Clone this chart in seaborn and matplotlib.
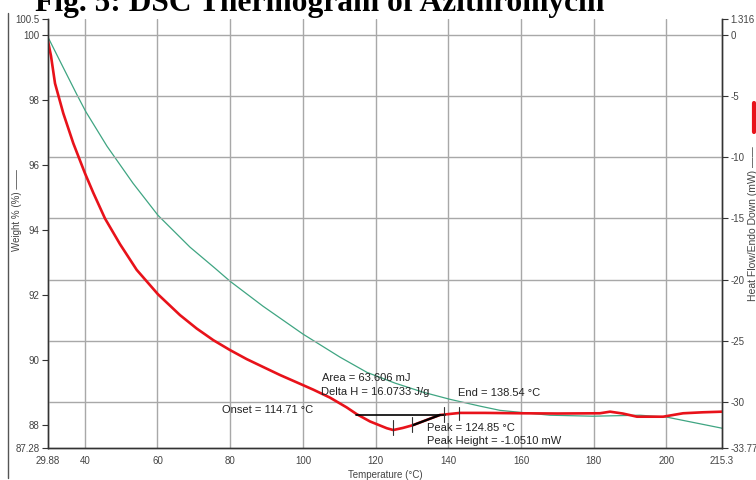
import matplotlib
matplotlib.use("Agg")
import matplotlib.pyplot as plt
from matplotlib.lines import Line2D
import seaborn as sns
import pandas as pd

# heat flow curve (right axis, mW)
red_T = [29.88, 30.7, 31.81, 34.09, 36.84, 40.06, 42.34, 45.56, 49.69, 54.28, 60.14, 66.19,
         70.79, 75.36, 79.95, 84.54, 89.11, 93.7, 98.3, 102.87, 107.46, 112.05, 114.8,
         118.47, 123.06, 124.85, 127.5, 130.3, 134.0, 137.7, 143.2, 150, 160, 170, 181.7,
         184.5, 188, 191.9, 199.1, 204.6, 210, 215.3]
red_HF = [-0.5, -1.7, -3.95, -6.4, -8.85, -11.31, -12.9, -15.0, -17.1, -19.2, -21.2, -22.9,
          -24.0, -24.95, -25.76, -26.5, -27.15, -27.8, -28.4, -29.0, -29.65, -30.45, -31.0,
          -31.6, -32.15, -32.3, -32.13, -31.9, -31.48, -31.07, -30.9, -30.9, -30.93, -30.95, -30.93,
          -30.8, -30.95, -31.21, -31.21, -30.93, -30.85, -30.8]

# weight curve (left axis, %)
green_T = [29.88, 33.73, 37.78, 40.25, 46.11, 53.26, 60.14, 68.94, 75.82, 79.95, 89.02, 100.03,
           110.21, 117.64, 125.34, 133.04, 140.47, 148.73, 154.23, 167.98, 179.81, 192.74,
           200.17, 215.3]
green_W = [99.94, 99.08, 98.18, 97.65, 96.58, 95.44, 94.45, 93.47, 92.82, 92.42, 91.65, 90.79,
           90.08, 89.61, 89.28, 89.0, 88.78, 88.57, 88.44, 88.29, 88.26, 88.29,
           88.23, 87.89]

x_ticks = [29.88, 40, 60, 80, 100, 120, 140, 160, 180, 200, 215.3]
x_labels = ["29.88", "40", "60", "80", "100", "120", "140", "160", "180", "200", "215.3"]
left_ticks = [87.28, 88, 90, 92, 94, 96, 98, 100, 100.5]
left_labels = ["87.28", "88", "90", "92", "94", "96", "98", "100", "100.5"]
right_ticks = [-33.77, -30, -25, -20, -15, -10, -5, 0, 1.316]
right_labels = ["-33.77", "-30", "-25", "-20", "-15", "-10", "-5", "0", "1.316"]

# peak integration
onset_T, end_T, peak_T = 114.71, 138.54, 124.85
base_HF = -31.07
mark_T = [124.85, 130.1, 138.8, 142.9]
mark_lo = [-32.71, -32.46, -31.64, -31.48]
mark_hi = [-31.48, -31.23, -30.42, -30.42]

sns.set_theme(style="white")
plt.rcParams['font.family'] = ['Liberation Sans', 'DejaVu Sans']

fig = plt.figure(figsize=(7.56, 4.8), dpi=100)
ax = fig.add_axes([48/756, 32/480, 674/756, 429/480])
ax2 = ax.twinx()

red_df = pd.DataFrame({'T': red_T, 'HF': red_HF})
green_df = pd.DataFrame({'T': green_T, 'W': green_W})

grid_c = '#a8a8a8'
for t in x_ticks[1:-1]:
    ax.axvline(t, color=grid_c, lw=1.0, zorder=0)
for v in right_ticks[1:-1]:
    ax2.axhline(v, color=grid_c, lw=1.0, zorder=0)

sns.lineplot(data=green_df, x='T', y='W', ax=ax, color='#3fa582', lw=0.9, estimator=None)
sns.lineplot(data=red_df, x='T', y='HF', ax=ax2, color='#e8121a', lw=1.9, estimator=None)

# integration baseline and markers
ax2.plot([onset_T, end_T + 0.6], [base_HF, base_HF], color='black', lw=1.2, zorder=5)
ax2.plot([130.3, 137.7], [-31.9, -31.07], color='black', lw=1.6, zorder=5)
for t, lo, hi in zip(mark_T, mark_lo, mark_hi):
    ax2.plot([t, t], [lo, hi], color='#333333', lw=0.8, zorder=5)

ax.set_xlim(29.88, 215.3)
ax.set_ylim(87.28, 100.5)
ax2.set_ylim(-33.77, 1.316)
ax.set_xticks(x_ticks)
ax.set_xticklabels(x_labels)
ax.set_yticks(left_ticks)
ax.set_yticklabels(left_labels)
ax2.set_yticks(right_ticks)
ax2.set_yticklabels(right_labels)

tc = '#444444'
for a in (ax, ax2):
    a.spines['top'].set_visible(False)
    for s in ('left', 'right', 'bottom'):
        a.spines[s].set_color('#333333')
        a.spines[s].set_linewidth(1.0)
    a.tick_params(direction='out', length=4, width=0.8, colors='#333333',
                  labelsize=7, labelcolor=tc, pad=2)
    a.set_facecolor('none')

ax.set_xlabel('Temperature (°C)', fontsize=7, color=tc, labelpad=3)
ax.set_ylabel('Weight % (%) ——', fontsize=7, color=tc)
ax.yaxis.set_label_coords(-0.0386, 0.555)
ax2.set_ylabel('Heat Flow/Endo Down (mW) ——', fontsize=7.5, color=tc)
ax2.yaxis.set_label_coords(1.0386, 0.524)

# annotations
txt_kw = dict(fontsize=8, color='#222222', va='center', ha='left', zorder=6)
ax2.text(105.26, -28.05, 'Area = 63.606 mJ', **txt_kw)
ax2.text(104.98, -29.19, 'Delta H = 16.0733 J/g', **txt_kw)
ax2.text(142.67, -29.27, 'End = 138.54 °C', **txt_kw)
ax2.text(77.75, -30.66, 'Onset = 114.71 °C', **txt_kw)
ax2.text(134.14, -32.13, 'Peak = 124.85 °C', **txt_kw)
ax2.text(134.14, -33.2, 'Peak Height = -1.0510 mW', **txt_kw)

fig.text(35/756, 1 - 11/480, 'Fig. 5: DSC Thermogram of Azithromycin',
         fontsize=22.7, fontweight='bold', family='Liberation Serif',
         va='baseline', ha='left', color='black')

# red legend swatch on the right label and screenshot border
fig.add_artist(Line2D([754/756, 754/756], [1 - 103/480, 1 - 132/480],
                      color='#e8121a', lw=3))
fig.add_artist(Line2D([8/756, 8/756], [2/480, 1 - 13/480], color='#555555', lw=1))

fig.savefig('out.png', dpi=100)
